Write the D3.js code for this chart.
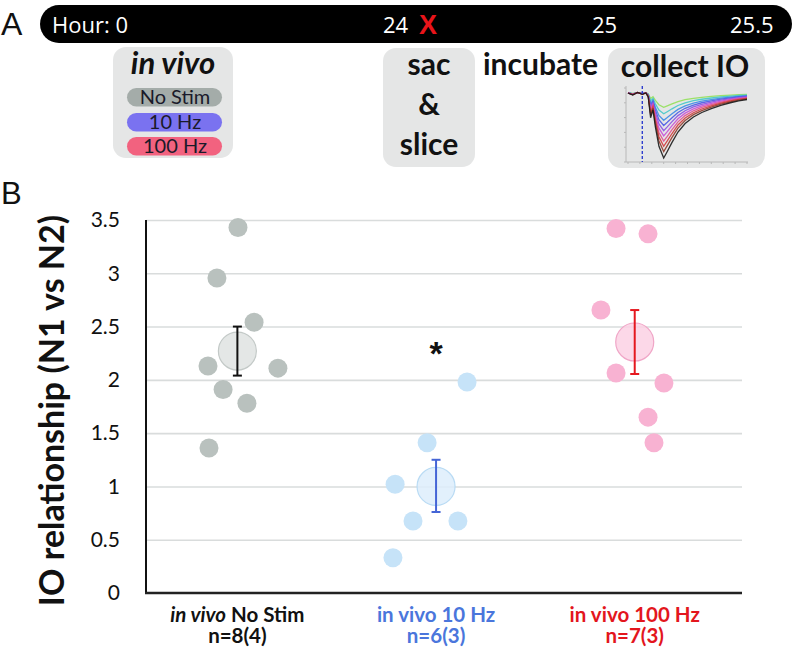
<!DOCTYPE html>
<html><head><meta charset="utf-8">
<script src="https://cdn.jsdelivr.net/npm/d3@7"></script>
<style>body{margin:0;background:#fff} svg{display:block}</style>
</head><body><svg id="c" width="793" height="656"></svg>
<script>
// ---------- data ----------
const yTicks = [0, 0.5, 1, 1.5, 2, 2.5, 3, 3.5];
const groupLead = ["in vivo", "in vivo", "in vivo"];
const groupTail = ["No Stim", "10 Hz", "100 Hz"];
const groupN = ["n=8(4)", "n=6(3)", "n=7(3)"];
const groupPos = [1, 2, 3];
const noStimX = [1.003, 0.897, 1.084, 0.852, 1.204, 0.928, 1.048, 0.857];
const noStimY = [3.43, 2.955, 2.54, 2.13, 2.11, 1.91, 1.78, 1.36];
const hz10X = [2.156, 1.955, 1.794, 1.884, 2.110, 1.783];
const hz10Y = [1.98, 1.41, 1.02, 0.676, 0.676, 0.33];
const hz100X = [2.906, 3.067, 2.830, 2.906, 3.147, 3.067, 3.097];
const hz100Y = [3.42, 3.37, 2.655, 2.065, 1.97, 1.65, 1.41];
const means = [2.27, 1.00, 2.355];
const errHi = [2.50, 1.25, 2.655];
const errLo = [2.04, 0.76, 2.055];
const sigX = [2];
const sigY = [2.31];
const timelineLabels = ["Hour: 0", "24", "25", "25.5"];
const conditionLabels = ["No Stim", "10 Hz", "100 Hz"];
// IO trace inset: normalized time, normalized response template, amplitudes per stimulus step
const traceT = [0, 0.04, 0.08, 0.12, 0.15, 0.17, 0.19, 0.21, 0.23, 0.26, 0.3, 0.33, 0.37, 0.42, 0.48, 0.55, 0.62, 0.7, 0.78, 0.86, 0.93, 1.0];
const traceShape = [0, 0.03, -0.01, 0.02, 0.0, 0.06, 0.38, 0.26, 0.52, 0.82, 1.0, 0.9, 0.76, 0.6, 0.47, 0.37, 0.3, 0.24, 0.19, 0.15, 0.12, 0.1];
const traceAmp = [0.22, 0.32, 0.42, 0.5, 0.58, 0.66, 0.74, 0.82, 0.9, 1.0];

// ---------- styles ----------
const groupDot = ["#b9c1be", "#c6e3f8", "#f8b2d2"];
const groupMeanFill = ["#dfe3e2", "#ddedfb", "#fbd1e4"];
const groupMeanStroke = ["#c3c9c7", "#b9dbf4", "#f0a6c7"];
const groupErr = ["#111", "#4565d6", "#e5181f"];
const groupText = ["#111", "#4a76dc", "#e3161d"];
const pillColors = ["#a4aca9", "#7a72f0", "#f2627f"];
const traceColors = ["#92e05a", "#42c8c8", "#3c8be6", "#4a5ae6", "#8a52e2", "#c84fd6", "#e0508c", "#d43a3a", "#8d3b2b", "#1a1a1a"];
const F = "Lato, 'Open Sans', sans-serif";

const svg = d3.select("#c");
svg.append("rect").attr("width", 793).attr("height", 656).attr("fill", "#fff");

// ---------- panel letters ----------
svg.append("text").attr("x", 1).attr("y", 35).text("A")
  .attr("font-family", "'Liberation Sans', Arial, sans-serif").attr("font-size", 32).attr("fill", "#111");
svg.append("text").attr("x", 1).attr("y", 204).text("B")
  .attr("font-family", "'Liberation Sans', Arial, sans-serif").attr("font-size", 31).attr("fill", "#111");

// ---------- timeline ----------
svg.append("rect").attr("x", 40).attr("y", 5).attr("width", 752).attr("height", 38).attr("rx", 19).attr("fill", "#000");
const tlX = [52, 383, 592, 730];
svg.selectAll("text.tl").data(timelineLabels).join("text").attr("class", "tl")
  .attr("x", (d, i) => tlX[i]).attr("y", 33).text(d => d)
  .attr("font-family", "'Open Sans', sans-serif").attr("font-size", 22).attr("fill", "#fff");
svg.append("text").attr("x", 419).attr("y", 34).text("X")
  .attr("font-family", "'Liberation Sans', Arial, sans-serif").attr("font-weight", "bold")
  .attr("font-size", 27).attr("fill", "#e8141a");

// boxes
const boxG = svg.append("g");
boxG.append("rect").attr("x", 113).attr("y", 47).attr("width", 120).attr("height", 111).attr("rx", 13).attr("fill", "#e5e6e6");
boxG.append("rect").attr("x", 383).attr("y", 48).attr("width", 92).attr("height", 119).attr("rx", 13).attr("fill", "#e5e6e6");
boxG.append("rect").attr("x", 608).attr("y", 48).attr("width", 157).attr("height", 120).attr("rx", 13).attr("fill", "#e5e6e6");

boxG.append("text").attr("x", 173).attr("y", 74).attr("text-anchor", "middle").text("in vivo")
  .attr("font-family", F).attr("font-weight", "bold").attr("font-style", "italic").attr("font-size", 31).attr("fill", "#111");
const pillY = [88, 113, 137];
conditionLabels.forEach((lab, i) => {
  boxG.append("rect").attr("x", 127).attr("y", pillY[i]).attr("width", 95).attr("height", 18.5).attr("rx", 9.25).attr("fill", pillColors[i]);
  boxG.append("text").attr("x", 175).attr("y", pillY[i] + 16).attr("text-anchor", "middle").text(lab)
    .attr("font-family", F).attr("font-size", 20).attr("fill", "#1a1a2a");
});
[["sac", 75], ["&", 115], ["slice", 155]].forEach(([t, y]) => {
  boxG.append("text").attr("x", 429).attr("y", y).attr("text-anchor", "middle").text(t)
    .attr("font-family", F).attr("font-weight", "bold").attr("font-size", 30).attr("fill", "#111");
});
boxG.append("text").attr("x", 483).attr("y", 75).text("incubate")
  .attr("font-family", F).attr("font-weight", "bold").attr("font-size", 30).attr("fill", "#111");
boxG.append("text").attr("x", 685).attr("y", 77).attr("text-anchor", "middle").text("collect IO")
  .attr("font-family", F).attr("font-weight", "bold").attr("font-size", 30).attr("fill", "#111");

// trace inset
const tx = d3.scaleLinear().domain([0, 1]).range([628, 747]);
const ty = d3.scaleLinear().domain([0, 1]).range([93, 158]);
const insetG = svg.append("g");
insetG.append("line").attr("x1", 626).attr("x2", 626).attr("y1", 86).attr("y2", 162).attr("stroke", "#b8b8b8").attr("stroke-width", 1);
insetG.append("line").attr("x1", 626).attr("x2", 748).attr("y1", 162).attr("y2", 162).attr("stroke", "#b8b8b8").attr("stroke-width", 1);
d3.range(0, 1.01, 0.1).forEach(v => {
  insetG.append("line").attr("x1", tx(v)).attr("x2", tx(v)).attr("y1", 162).attr("y2", 164).attr("stroke", "#b8b8b8");
});
d3.range(0, 1.01, 0.2).forEach(v => {
  insetG.append("line").attr("x1", 624).attr("x2", 626).attr("y1", 88 + v * 74).attr("y2", 88 + v * 74).attr("stroke", "#b8b8b8");
});
const line = d3.line().x(d => tx(d[0])).y(d => ty(d[1])).curve(d3.curveLinear);
traceAmp.forEach((a, k) => {
  insetG.append("path").attr("d", line(traceT.map((t, j) => [t, traceShape[j] * a])))
    .attr("fill", "none").attr("stroke", traceColors[k]).attr("stroke-width", 1.3).attr("stroke-opacity", 0.9);
});
insetG.append("line").attr("x1", tx(0.12)).attr("x2", tx(0.12)).attr("y1", 86).attr("y2", 162)
  .attr("stroke", "#2233cc").attr("stroke-width", 1.3).attr("stroke-dasharray", "3,2");

// ---------- panel B ----------
const y = d3.scaleLinear().domain([0, 3.5]).range([593, 220]);
const x = d3.scaleLinear().domain([0.54, 3.54]).range([146, 742]);

// gridlines
svg.append("g").attr("transform", "translate(146,0)")
  .call(d3.axisLeft(y).tickValues(yTicks.filter(v => v > 0)).tickSize(-596).tickFormat(""))
  .call(g => g.select(".domain").remove())
  .call(g => g.selectAll("line").attr("stroke", "#d9dcdc").attr("stroke-width", 1.6));
// tick labels
svg.append("g").attr("transform", "translate(146,0)")
  .call(d3.axisLeft(y).tickValues(yTicks).tickSize(0).tickPadding(26).tickFormat(d => String(d)))
  .call(g => g.select(".domain").remove())
  .call(g => g.selectAll("text").attr("font-family", F).attr("font-size", 21).attr("fill", "#111"));
// axis lines
svg.append("line").attr("x1", 146).attr("x2", 146).attr("y1", y(3.5)).attr("y2", y(0) + 1).attr("stroke", "#111").attr("stroke-width", 2);
svg.append("line").attr("x1", 145).attr("x2", 742).attr("y1", y(0)).attr("y2", y(0)).attr("stroke", "#222").attr("stroke-width", 2.5);

// y title
svg.append("text").attr("transform", `translate(64,${(y(0) + y(3.5)) / 2 + 4}) rotate(-90)`)
  .attr("text-anchor", "middle").text("IO relationship (N1 vs N2)")
  .attr("font-family", F).attr("font-weight", "bold").attr("font-size", 34).attr("fill", "#111");

// dots
const groups = [[noStimX, noStimY], [hz10X, hz10Y], [hz100X, hz100Y]];
groups.forEach(([xs, ys], g) => {
  svg.append("g").selectAll("circle").data(xs.map((v, i) => [v, ys[i]])).join("circle")
    .attr("cx", d => x(d[0])).attr("cy", d => y(d[1])).attr("r", 9.5).attr("fill", groupDot[g]);
});
// means + error bars
groupPos.forEach((p, g) => {
  svg.append("circle").attr("cx", x(p)).attr("cy", y(means[g])).attr("r", 19)
    .attr("fill", groupMeanFill[g]).attr("fill-opacity", 0.85).attr("stroke", groupMeanStroke[g]).attr("stroke-width", 1.2);
  const eg = svg.append("g").attr("stroke", groupErr[g]).attr("stroke-width", 2);
  eg.append("line").attr("x1", x(p)).attr("x2", x(p)).attr("y1", y(errHi[g])).attr("y2", y(errLo[g]));
  eg.append("line").attr("x1", x(p) - 4.5).attr("x2", x(p) + 4.5).attr("y1", y(errHi[g])).attr("y2", y(errHi[g]));
  eg.append("line").attr("x1", x(p) - 4.5).attr("x2", x(p) + 4.5).attr("y1", y(errLo[g])).attr("y2", y(errLo[g]));
});
// significance
sigX.forEach((v, i) => {
  svg.append("text").attr("x", x(v)).attr("y", y(sigY[i]) + 18).attr("text-anchor", "middle").text("*")
    .attr("font-family", "'Liberation Sans', Arial, sans-serif").attr("font-weight", "bold").attr("font-size", 34).attr("fill", "#111");
});

// x labels
groupPos.forEach((p, g) => {
  const t = svg.append("text").attr("x", x(p)).attr("y", 622).attr("text-anchor", "middle")
    .attr("font-family", F).attr("font-weight", "bold").attr("font-size", 20.5).attr("fill", groupText[g]);
  t.append("tspan").text(groupLead[g]).attr("font-style", g === 0 ? "italic" : "normal");
  t.append("tspan").text(" " + groupTail[g]);
  svg.append("text").attr("x", x(p)).attr("y", 643).attr("text-anchor", "middle").text(groupN[g])
    .attr("font-family", F).attr("font-weight", "bold").attr("font-size", 20.5).attr("fill", groupText[g]);
});
</script></body></html>
